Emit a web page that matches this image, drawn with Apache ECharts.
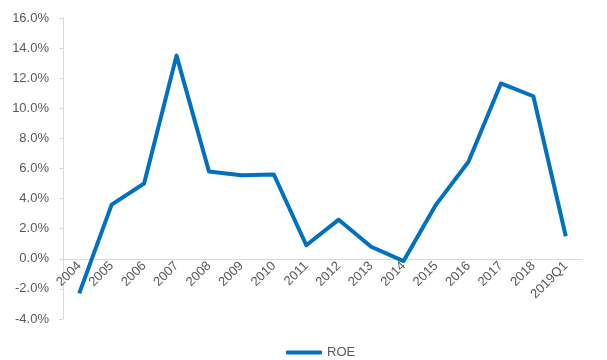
<!DOCTYPE html>
<html>
<head>
<meta charset="utf-8">
<script src="https://cdn.jsdelivr.net/npm/echarts@6/dist/echarts.min.js"></script>
<style>
  html, body { margin: 0; padding: 0; background: #fff; }
  #chart { width: 607px; height: 360px; }
</style>
</head>
<body>
<div id="chart"></div>
<script>
// ROE by year
const years = ['2004', '2005', '2006', '2007', '2008', '2009', '2010', '2011',
  '2012', '2013', '2014', '2015', '2016', '2017', '2018', '2019Q1']
const roe = [-2.3, 3.6, 5.0, 13.5, 5.8, 5.55, 5.6, 0.9, 2.6, 0.8, -0.15, 3.6, 6.45, 11.65, 10.8, 1.5]

const yMin = -4
const yMax = 16
const gridTop = 18
const gridBottom = 41
const gridHeight = 360 - gridTop - gridBottom
// move the category axis (and its labels) up to the 0% line, like Excel does
const zeroOffset = -gridHeight * (0 - yMin) / (yMax - yMin)

const chart = echarts.init(document.getElementById('chart'))

chart.setOption({
  animation: false,
  textStyle: { fontFamily: 'Liberation Sans, Arial, sans-serif' },
  grid: { left: 63, right: 25, top: gridTop, bottom: gridBottom },
  legend: {
    data: ['ROE'],
    left: 281,
    top: 341,
    icon: 'roundRect',
    itemWidth: 36,
    itemHeight: 4,
    itemGap: 4,
    textStyle: { color: '#595959', fontSize: 13 }
  },
  xAxis: {
    type: 'category',
    data: years,
    boundaryGap: true,
    offset: zeroOffset,
    axisLine: { onZero: false, lineStyle: { color: '#d9d9d9', width: 1 } },
    axisTick: { show: false },
    axisLabel: { rotate: 45, color: '#595959', fontSize: 13, margin: 5, interval: 0 },
    splitLine: { show: false }
  },
  yAxis: {
    type: 'value',
    min: yMin,
    max: yMax,
    interval: 2,
    axisLine: { show: true, lineStyle: { color: '#d9d9d9' } },
    axisTick: { show: true, length: 4, lineStyle: { color: '#d9d9d9' } },
    axisLabel: {
      color: '#595959',
      fontSize: 13,
      margin: 14,
      formatter: v => v.toFixed(1) + '%'
    },
    splitLine: { show: false }
  },
  series: [{
    name: 'ROE',
    type: 'line',
    data: roe,
    showSymbol: false,
    symbol: 'none',
    lineStyle: { color: '#0070c0', width: 4, join: 'round' },
    itemStyle: { color: '#0070c0' }
  }]
})
</script>
</body>
</html>
